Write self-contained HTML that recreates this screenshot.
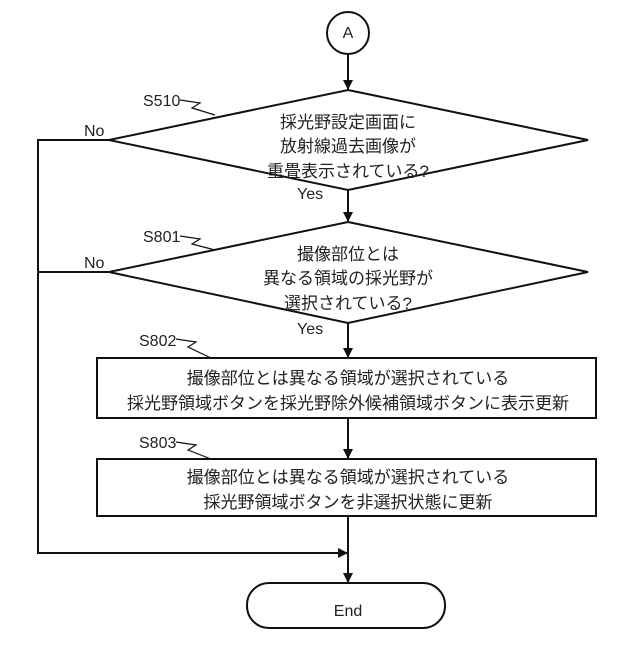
<!DOCTYPE html><html><head><meta charset="utf-8"><style>body{margin:0;background:#fff}svg text{font-family:"Liberation Sans","Noto Sans CJK JP",sans-serif;fill:#222}</style></head><body>
<svg width="640" height="640" viewBox="0 0 640 640" xmlns="http://www.w3.org/2000/svg">
<defs><marker id="a" markerWidth="10" markerHeight="10" refX="9" refY="5" orient="auto" markerUnits="userSpaceOnUse"><path d="M0,0 L10,5 L0,10 z" fill="#111"/></marker></defs>
<g stroke="#111" stroke-width="2" fill="none">
<circle cx="348" cy="33" r="21"/>
<line x1="348" y1="54" x2="348" y2="89" marker-end="url(#a)"/>
<polygon points="348,90 588,140 348,190 109,140"/>
<line x1="348" y1="190" x2="348" y2="221" marker-end="url(#a)"/>
<polygon points="348,222 588,272 348,323 109,272"/>
<line x1="348" y1="323" x2="348" y2="357" marker-end="url(#a)"/>
<rect x="97" y="358" width="499" height="60"/>
<line x1="348" y1="418" x2="348" y2="458" marker-end="url(#a)"/>
<rect x="97" y="459" width="499" height="57"/>
<line x1="348" y1="516" x2="348" y2="582" marker-end="url(#a)"/>
<polyline points="109,140 38,140 38,553 347,553" marker-end="url(#a)"/>
<line x1="109" y1="272" x2="38" y2="272"/>
<rect x="247" y="583" width="198" height="45" rx="22"/>
<path d="M180,100 L200,103 L192,108 L215,115" stroke-width="1.2"/>
<path d="M180,236 L200,239 L192,244 L215,250" stroke-width="1.2"/>
<path d="M176,339 L196,342 L188,347 L211,358" stroke-width="1.2"/>
<path d="M176,442 L196,445 L188,450 L211,459" stroke-width="1.2"/>
</g>
<g font-size="16">
<text x="348" y="38" text-anchor="middle">A</text>
<text x="143" y="106">S510</text><text x="143" y="242">S801</text>
<text x="139" y="346">S802</text><text x="139" y="448">S803</text>
<text x="84" y="136">No</text><text x="84" y="268">No</text>
<text x="297" y="199">Yes</text><text x="297" y="334">Yes</text>
<text x="348" y="616" text-anchor="middle">End</text>
</g>
<g font-size="17" text-anchor="middle">
<text x="348" y="128">採光野設定画面に</text>
<text x="348" y="152">放射線過去画像が</text>
<text x="348" y="177">重畳表示されている?</text>
<text x="348" y="260">撮像部位とは</text>
<text x="348" y="284">異なる領域の採光野が</text>
<text x="348" y="309">選択されている?</text>
<text x="348" y="384">撮像部位とは異なる領域が選択されている</text>
<text x="348" y="409">採光野領域ボタンを採光野除外候補領域ボタンに表示更新</text>
<text x="348" y="483">撮像部位とは異なる領域が選択されている</text>
<text x="348" y="508">採光野領域ボタンを非選択状態に更新</text>
</g>
</svg></body></html>
